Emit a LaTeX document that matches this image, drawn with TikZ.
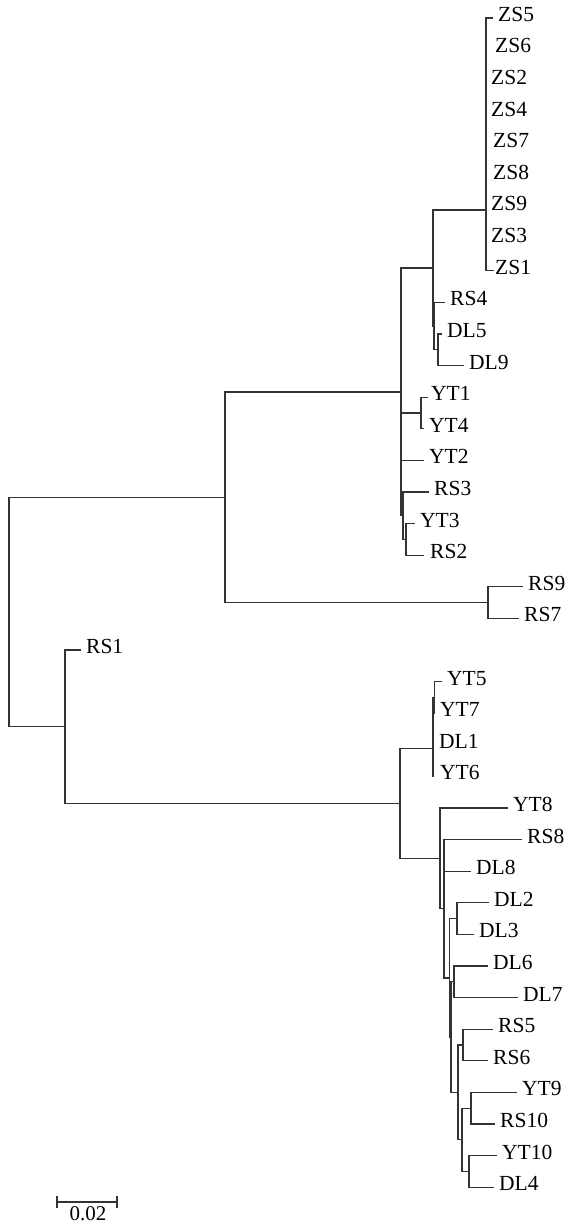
\documentclass[tikz,border=0pt]{standalone}
\usepackage{fontspec}
\setmainfont{Liberation Serif}
\newcommand\mkspan[3]{\draw[br] (#1 |- #2) -- (#1 |- #3);}
\newcommand\mkedges[2]{\foreach \c in {#2} {\draw[br] (#1 |- \c) -- (\c);}}
\begin{document}
\begin{tikzpicture}[x=1pt,y=-1pt,
  br/.style={line width=1.3pt, draw=black!80, line cap=rect},
  lab/.style={anchor=west, inner sep=0pt, text height=0.68em, text depth=0pt, font=\fontsize{21.5}{25}\selectfont}]
\useasboundingbox (0,0) rectangle (565,1225);
% internal nodes
\coordinate (root) at (9,612);
\coordinate (B) at (225,497.2);
\coordinate (C) at (65,726.8);
\coordinate (U) at (401,391.9);
\coordinate (RR) at (488,602.6);
\coordinate (A) at (433,268);
\coordinate (K) at (421,413);
\coordinate (L) at (403,515.7);
\coordinate (M) at (406,539.4);
\coordinate (ZS) at (486,210);
\coordinate (G) at (434,326.1);
\coordinate (H) at (438,349.8);
\coordinate (D) at (400,803.6);
\coordinate (E) at (433,748.8);
\coordinate (Wn) at (433,721.1);
\coordinate (Z) at (434.5,697.4);
\coordinate (F) at (440,858.4);
\coordinate (N) at (444,908.8);
\coordinate (P) at (449.5,977.9);
\coordinate (Q) at (457,918.6);
\coordinate (RY) at (451,1037.1);
\coordinate (R) at (454,981.8);
\coordinate (Y) at (458,1092.4);
\coordinate (T) at (463,1045);
\coordinate (X) at (462,1139.8);
\coordinate (V) at (471,1108.2);
\coordinate (Wl) at (469,1171.4);
% leaf tips
\coordinate (zs5) at (492,18);
\coordinate (zs6) at (486,49.6);
\coordinate (zs2) at (486,81.2);
\coordinate (zs4) at (486,112.8);
\coordinate (zs7) at (486,144.4);
\coordinate (zs8) at (486,176);
\coordinate (zs9) at (486,207.6);
\coordinate (zs3) at (486,239.2);
\coordinate (zs1) at (493,270.8);
\coordinate (rs4) at (444,302.4);
\coordinate (dl5) at (441,334);
\coordinate (dl9) at (463,365.6);
\coordinate (yt1) at (427,397.2);
\coordinate (yt4) at (423,428.8);
\coordinate (yt2) at (423,460.4);
\coordinate (rs3) at (428,492);
\coordinate (yt3) at (414,523.6);
\coordinate (rs2) at (423,555.2);
\coordinate (rs9) at (522,586.8);
\coordinate (rs7) at (518,618.4);
\coordinate (rs1) at (80,650);
\coordinate (yt5) at (441,681.6);
\coordinate (yt7) at (434.5,713.2);
\coordinate (dl1) at (433,744.8);
\coordinate (yt6) at (433,776.4);
\coordinate (yt8) at (507,808);
\coordinate (rs8) at (521,839.6);
\coordinate (dl8) at (470,871.2);
\coordinate (dl2) at (488,902.8);
\coordinate (dl3) at (473,934.4);
\coordinate (dl6) at (487,966);
\coordinate (dl7) at (517,997.6);
\coordinate (rs5) at (492,1029.2);
\coordinate (rs6) at (487,1060.8);
\coordinate (yt9) at (516,1092.4);
\coordinate (rs10) at (494,1124);
\coordinate (yt10) at (496,1155.6);
\coordinate (dl4) at (493,1187.2);
% clades
\mkspan{ZS}{zs5}{zs1} \mkedges{ZS}{zs5,zs1}
\mkspan{H}{dl5}{dl9} \mkedges{H}{dl5,dl9}
\mkspan{G}{rs4}{H} \mkedges{G}{rs4,H}
\mkspan{A}{ZS}{G} \mkedges{A}{ZS,G}
\mkspan{K}{yt1}{yt4} \mkedges{K}{yt1,yt4}
\mkspan{M}{yt3}{rs2} \mkedges{M}{yt3,rs2}
\mkspan{L}{rs3}{M} \mkedges{L}{rs3,M}
\mkspan{U}{A}{L} \mkedges{U}{A,K,yt2,L}
\mkspan{RR}{rs9}{rs7} \mkedges{RR}{rs9,rs7}
\mkspan{B}{U}{RR} \mkedges{B}{U,RR}
\mkspan{Z}{yt5}{yt7} \mkedges{Z}{yt5}
\mkspan{Wn}{Z}{dl1} \mkedges{Wn}{Z}
\mkspan{E}{Wn}{yt6}
\mkspan{Q}{dl2}{dl3} \mkedges{Q}{dl2,dl3}
\mkspan{R}{dl6}{dl7} \mkedges{R}{dl6,dl7}
\mkspan{T}{rs5}{rs6} \mkedges{T}{rs5,rs6}
\mkspan{V}{yt9}{rs10} \mkedges{V}{yt9,rs10}
\mkspan{Wl}{yt10}{dl4} \mkedges{Wl}{yt10,dl4}
\mkspan{X}{V}{Wl} \mkedges{X}{V,Wl}
\mkspan{Y}{T}{X} \mkedges{Y}{T,X}
\mkspan{RY}{R}{Y} \mkedges{RY}{R,Y}
\mkspan{P}{Q}{RY} \mkedges{P}{Q,RY}
\mkspan{N}{rs8}{P} \mkedges{N}{rs8,dl8,P}
\mkspan{F}{yt8}{N} \mkedges{F}{yt8,N}
\mkspan{D}{E}{F} \mkedges{D}{E,F}
\mkspan{C}{rs1}{D} \mkedges{C}{rs1,D}
\mkspan{root}{B}{C} \mkedges{root}{B,C}
% labels
\node[lab] (Lzs5) at (498,18) {ZS5};
\node[lab] (Lzs6) at (495,49.6) {ZS6};
\node[lab] (Lzs2) at (491,81.2) {ZS2};
\node[lab] (Lzs4) at (491,112.8) {ZS4};
\node[lab] (Lzs7) at (493,144.4) {ZS7};
\node[lab] (Lzs8) at (493,176) {ZS8};
\node[lab] (Lzs9) at (491,207.6) {ZS9};
\node[lab] (Lzs3) at (491,239.2) {ZS3};
\node[lab] (Lzs1) at (495,270.8) {ZS1};
\node[lab] (Lrs4) at (450,302.4) {RS4};
\node[lab] (Ldl5) at (447,334) {DL5};
\node[lab] (Ldl9) at (469,365.6) {DL9};
\node[lab] (Lyt1) at (431,397.2) {YT1};
\node[lab] (Lyt4) at (429,428.8) {YT4};
\node[lab] (Lyt2) at (429,460.4) {YT2};
\node[lab] (Lrs3) at (434,492) {RS3};
\node[lab] (Lyt3) at (420,523.6) {YT3};
\node[lab] (Lrs2) at (430,555.2) {RS2};
\node[lab] (Lrs9) at (528,586.8) {RS9};
\node[lab] (Lrs7) at (524,618.4) {RS7};
\node[lab] (Lrs1) at (86,650) {RS1};
\node[lab] (Lyt5) at (447,681.6) {YT5};
\node[lab] (Lyt7) at (440,713.2) {YT7};
\node[lab] (Ldl1) at (439,744.8) {DL1};
\node[lab] (Lyt6) at (440,776.4) {YT6};
\node[lab] (Lyt8) at (513,808) {YT8};
\node[lab] (Lrs8) at (527,839.6) {RS8};
\node[lab] (Ldl8) at (476,871.2) {DL8};
\node[lab] (Ldl2) at (494,902.8) {DL2};
\node[lab] (Ldl3) at (479,934.4) {DL3};
\node[lab] (Ldl6) at (493,966) {DL6};
\node[lab] (Ldl7) at (523,997.6) {DL7};
\node[lab] (Lrs5) at (498,1029.2) {RS5};
\node[lab] (Lrs6) at (493,1060.8) {RS6};
\node[lab] (Lyt9) at (522,1092.4) {YT9};
\node[lab] (Lrs10) at (500,1124) {RS10};
\node[lab] (Lyt10) at (502,1155.6) {YT10};
\node[lab] (Ldl4) at (499,1187.2) {DL4};
% scale bar
\coordinate (sb1) at (57,1202);
\coordinate (sb2) at (117,1202);
\draw[br,line cap=butt] (sb1) -- (sb2);
\draw[br,line cap=butt] ([yshift=6pt]sb1) -- ([yshift=-6pt]sb1);
\draw[br,line cap=butt] ([yshift=6pt]sb2) -- ([yshift=-6pt]sb2);
\node[anchor=base, inner sep=0pt, text depth=0pt, font=\fontsize{21}{25}\selectfont] (sbl) at (88,1220) {0.02};
\end{tikzpicture}
\end{document}
